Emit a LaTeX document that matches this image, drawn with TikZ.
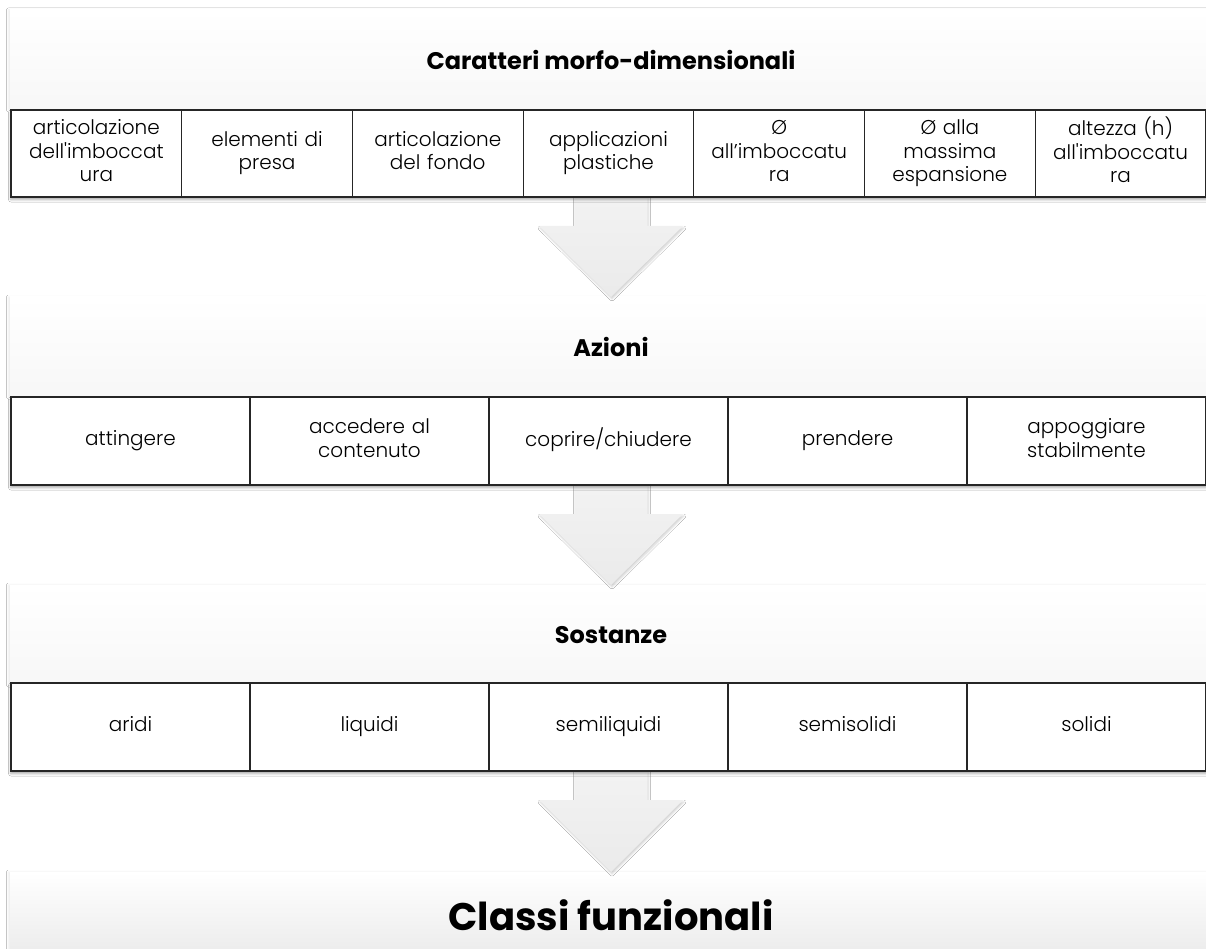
\documentclass[tikz,border=0pt]{standalone}
\usepackage{fontspec}
\setmainfont{Poppins}
\newfontfamily\leggero{Poppins Light}
\usetikzlibrary{calc,shadows.blur}

\tikzset{
  banda/.style={minimum width=1202pt, minimum height=100pt, inner sep=0pt, outer sep=0pt,
    top color=white, bottom color=black!3,
    blur shadow={shadow xshift=-1.5pt, shadow yshift=0pt, shadow opacity=8, shadow blur radius=2pt},
    font=\bfseries\fontsize{24}{28}\selectfont},
  cella/.style={draw=black!85, line width=1.2pt, fill=white, anchor=north west,
    minimum height=87pt, inner sep=2pt, outer sep=0pt, align=center,
    font=\leggero\fontsize{20}{23.5}\selectfont},
  ombra/.style={fill=white, blur shadow={shadow xshift=0pt, shadow yshift=-2.5pt, shadow opacity=35, shadow blur radius=2.5pt}},
  freccia/.style={top color=black!5, bottom color=black!8,
    blur shadow={shadow xshift=1pt, shadow yshift=-2pt, shadow opacity=18, shadow blur radius=2pt}}
}

% block arrow from a table down to the next band
\newcommand{\freccia}[2]{%
  \path[freccia] ($(#1)+(-36.5,0)$) -- ($(#1)+(-36.5,29)$) -- ($(#1)+(-72,29)$)
    -- (#2) -- ($(#1)+(72,29)$) -- ($(#1)+(36.5,29)$) -- ($(#1)+(36.5,0)$) -- cycle;}

\begin{document}
\begin{tikzpicture}[x=1pt,y=-1pt]
  \clip (0,0) rectangle (1206,949);
  \fill[white] (0,0) rectangle (1206,949);

  % header bands
  \node[banda] (bm) at (611,60) {Caratteri morfo-dimensionali};
  \node[banda] (ba) at (611,347) {Azioni};
  \node[banda] (bs) at (611,635) {Sostanze};
  \node[banda, minimum height=86pt, bottom color=black!8,
    font=\bfseries\fontsize{38.5}{44}\selectfont] (bc) at (611,915) {Classi funzionali};

  % arrows between the rows
  \coordinate (f1) at (ba.north |- 0,197);
  \coordinate (f2) at (bs.north |- 0,485);
  \coordinate (f3) at (bc.north |- 0,771);
  \freccia{f1}{ba.north}
  \freccia{f2}{bs.north}
  \freccia{f3}{bc.north}

  % morpho-dimensional features
  \path[ombra] (11,110) rectangle (1212,197);
  \foreach \t [count=\i] in {{articolazione\\dell'imboccat\\ura}, {elementi di\\presa},
      {articolazione\\del fondo}, {applicazioni\\plastiche}, {Ø\\all’imboccatu\\ra},
      {Ø alla\\massima\\espansione}, {altezza (h)\\all'imboccatu\\ra}}
    \node[cella, minimum width=170.7pt, text width=165pt] (m\i) at ({11+(\i-1)*170.7},110) {\strut\t\strut};

  % actions
  \path[ombra] (11,397) rectangle (1212,485);
  \foreach \t [count=\i] in {attingere, {accedere al\\contenuto}, coprire/chiudere,
      prendere, {appoggiare\\stabilmente}}
    \node[cella, minimum width=239pt, minimum height=88pt, text width=225pt] (a\i) at ({11+(\i-1)*239},397) {\strut\t\strut};

  % substances
  \path[ombra] (11,683) rectangle (1212,771);
  \foreach \t [count=\i] in {aridi, liquidi, semiliquidi, semisolidi, solidi}
    \node[cella, minimum width=239pt, minimum height=88pt, text width=225pt] (s\i) at ({11+(\i-1)*239},683) {\strut\t\strut};
\end{tikzpicture}
\end{document}
